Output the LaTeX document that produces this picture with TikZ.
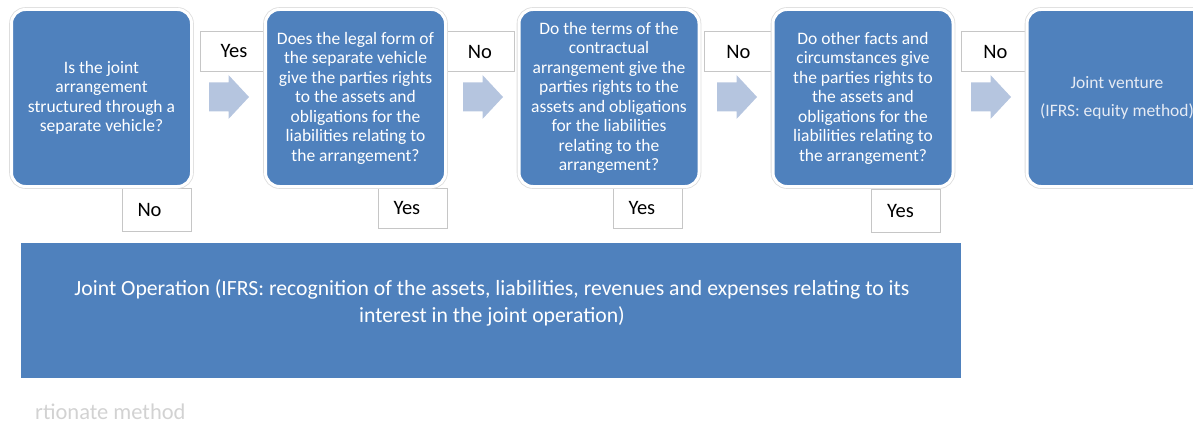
\documentclass[tikz,border=0pt]{standalone}
\usepackage{fontspec}
\setmainfont{Carlito}
\definecolor{boxblue}{HTML}{4F81BD}
\definecolor{arrowblue}{HTML}{B5C5DF}
\definecolor{lblgray}{HTML}{C6C6C6}
\definecolor{ringgray}{HTML}{DDDDDD}
\definecolor{jvtext}{HTML}{E6EBF4}
\definecolor{fainttext}{HTML}{D2D2D2}
\begin{document}
\begin{tikzpicture}[x=1pt,y=-1pt,
  qbox/.style={rectangle, rounded corners=14pt, fill=boxblue, draw=white, line width=3pt,
    preaction={draw=ringgray, line width=4.6pt},
    minimum width=180pt, minimum height=177pt, inner sep=0pt, align=center,
    text=white, font=\fontsize{17.5}{19.5}\selectfont},
  toplbl/.style={rectangle, draw=lblgray, line width=0.8pt, fill=white, inner sep=0pt,
    minimum height=40pt, font=\fontsize{20.5}{24}\selectfont},
  botlbl/.style={rectangle, draw=lblgray, line width=0.8pt, fill=white, inner sep=0pt,
    minimum width=69pt, text width=38pt, align=left, font=\fontsize{20.5}{24}\selectfont},
  bigbox/.style={rectangle, fill=boxblue, inner sep=0pt, minimum width=940pt, minimum height=135pt},
  bigtext/.style={inner sep=0pt, align=center, text=white, font=\fontsize{21.7}{26.5}\selectfont},
  blockarrow/.pic={\fill[arrowblue] (-20,-14.5) -- (-0.5,-14.5) -- (-0.5,-22) -- (20,0) -- (-0.5,22) -- (-0.5,14.5) -- (-20,14.5) -- cycle;}
]
\useasboundingbox (0,0) rectangle (1193,425);

% labels on the horizontal path (drawn first, partly behind the boxes)
\node[toplbl, minimum width=68pt] (l1) at (234,51.5) {Yes};
\node[toplbl, minimum width=68pt] (l2) at (480,51.5) {No};
\node[toplbl, minimum width=69pt] (l3) at (738.5,51.5) {No};
\node[toplbl, minimum width=69pt] (l4) at (995.5,51.5) {No};

% labels below the boxes
\node[botlbl, minimum height=43pt] (b1) at (156.5,209.5) {No};
\node[botlbl, minimum height=40pt] (b2) at (412.5,208) {Yes};
\node[botlbl, minimum height=40pt] (b3) at (647.5,208) {Yes};
\node[botlbl, minimum height=43pt] (b4) at (906,210.5) {Yes};

% question boxes
\node[qbox] (q1) at (101.5,98) {Is the joint\\arrangement\\structured through a\\separate vehicle?};
\node[qbox] (q2) at (355.5,98) {Does the legal form of\\the separate vehicle\\give the parties rights\\to the assets and\\obligations for the\\liabilities relating to\\the arrangement?};
\node[qbox] (q3) at (609,98) {Do the terms of the\\contractual\\arrangement give the\\parties rights to the\\assets and obligations\\for the liabilities\\relating to the\\arrangement?};
\node[qbox] (q4) at (863,98) {Do other facts and\\circumstances give\\the parties rights to\\the assets and\\obligations for the\\liabilities relating to\\the arrangement?};
\node[qbox, text=jvtext] (q5) at (1117,98) {Joint venture\\[8.5pt](IFRS: equity method)};

% block arrows
\pic at (229,97) {blockarrow};
\pic at (483,97) {blockarrow};
\pic at (737,97) {blockarrow};
\pic at (991,97) {blockarrow};

% joint operation box
\node[bigbox] (jo) at (491,310.5) {};
\node[bigtext] (jotext) at (492,303) {Joint Operation (IFRS: recognition of the assets, liabilities, revenues and expenses relating to its\\interest in the joint operation)};

% faint leftover text
\node[anchor=base west, inner sep=0pt, text=fainttext, font=\fontsize{22.5}{26}\selectfont] (faint) at (35,419) {rtionate method};
\end{tikzpicture}
\end{document}
